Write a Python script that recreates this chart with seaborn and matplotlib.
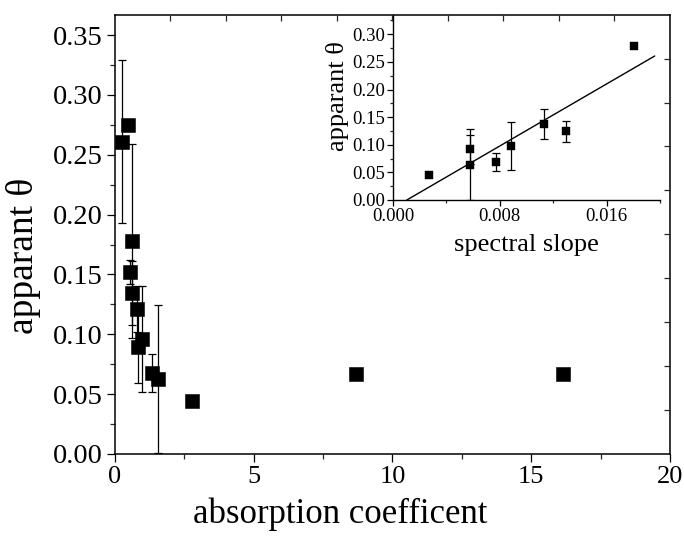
import numpy as np
import pandas as pd
import matplotlib
matplotlib.use("Agg")
import matplotlib.pyplot as plt
import seaborn as sns
from matplotlib.ticker import MultipleLocator, FormatStrFormatter, FixedLocator

# ---------------- data ----------------
# main panel: apparent theta vs absorption coefficient
absorption = [0.26, 0.47, 0.61, 0.53, 0.62, 0.80, 0.98, 0.83, 1.34, 1.55, 2.77, 8.69, 16.15]
theta_main = [0.261, 0.275, 0.178, 0.152, 0.1345, 0.121, 0.096, 0.089, 0.0675, 0.0625, 0.0446, 0.0665, 0.067]
theta_main_err = [0.068, 0.0, 0.081, 0.01, 0.027, 0.019, 0.044, 0.03, 0.016, 0.062, 0.0, 0.0, 0.0]

# inset: apparent theta vs spectral slope
spectral_slope = [0.00271, 0.00576, 0.00576, 0.0077, 0.0088, 0.01134, 0.01293, 0.01804]
theta_inset = [0.0458, 0.064, 0.092, 0.069, 0.098, 0.137, 0.124, 0.2796]
theta_inset_err = [0.0, 0.064, 0.026, 0.016, 0.044, 0.027, 0.019, 0.0]
fit_x_end = 0.0196

main_xticks = [0, 5, 10, 15, 20]
main_yticks = [0.00, 0.05, 0.10, 0.15, 0.20, 0.25, 0.30, 0.35]
inset_xticks = [0.000, 0.008, 0.016]
inset_yticks = [0.00, 0.05, 0.10, 0.15, 0.20, 0.25, 0.30]

main_df = pd.DataFrame({"absorption": absorption, "theta": theta_main, "err": theta_main_err})
inset_df = pd.DataFrame({"slope": spectral_slope, "theta": theta_inset, "err": theta_inset_err})

# ---------------- style ----------------
sns.set_theme(style="ticks")
plt.rcParams["font.family"] = ["Liberation Serif", "DejaVu Serif"]

fig = plt.figure(figsize=(6.84, 5.36), dpi=100)
fig.patch.set_facecolor("white")

# ---------------- main axes ----------------
ax = fig.add_axes([0.1681, 0.1530, 0.8114, 0.8196])
ax.set_facecolor("white")
eb = main_df[main_df["err"] > 0]
ax.errorbar(eb["absorption"], eb["theta"], yerr=eb["err"], fmt="none",
            ecolor="black", elinewidth=0.9, capsize=3, capthick=0.9, zorder=2)
sns.scatterplot(data=main_df, x="absorption", y="theta", marker="s", s=95,
                color="black", edgecolor="black", linewidth=0.4, ax=ax, zorder=3,
                legend=False)
ax.set_xlim(0, 20)
ax.set_ylim(0, 0.367)
ax.xaxis.set_major_locator(FixedLocator(main_xticks))
ax.xaxis.set_minor_locator(MultipleLocator(2.5))
ax.yaxis.set_major_locator(FixedLocator(main_yticks))
ax.yaxis.set_minor_locator(MultipleLocator(0.025))
ax.yaxis.set_major_formatter(FormatStrFormatter("%.2f"))
ax.xaxis.set_major_formatter(FormatStrFormatter("%d"))
ax.tick_params(axis="both", which="major", direction="out", length=6, width=0.9,
               pad=3, top=False, right=False, colors="black")
ax.tick_params(axis="x", which="major", labelsize=19)
ax.tick_params(axis="y", which="major", labelsize=20.5)
ax.tick_params(axis="both", which="minor", direction="out", length=3.5, width=0.9,
               top=False, right=False)
for sp in ax.spines.values():
    sp.set_visible(True)
    sp.set_linewidth(1.1)
    sp.set_color("black")
ax.set_xlabel("absorption coefficent", fontsize=25, color="black")
ax.set_ylabel("apparant θ", fontsize=27, color="black")
ax.xaxis.set_label_coords(0.405, -0.098)
ax.xaxis.label.set_va("top")
ax.yaxis.set_label_coords(-0.133, 0.45)

# ---------------- inset ----------------
ins = fig.add_axes([0.5746, 0.6269, 0.3904, 0.3457])
ins.patch.set_alpha(0)
eb2 = inset_df[inset_df["err"] > 0]
ins.errorbar(eb2["slope"], eb2["theta"], yerr=eb2["err"], fmt="none",
             ecolor="black", elinewidth=0.9, capsize=3, capthick=0.9, zorder=2)
sns.scatterplot(data=inset_df, x="slope", y="theta", marker="s", s=30,
                color="black", edgecolor="black", linewidth=0.3, ax=ins, zorder=3,
                legend=False)
coef = np.polyfit(spectral_slope, theta_inset, 1)
x0 = -coef[1] / coef[0]
fit_x = np.array([x0, fit_x_end])
fit_df = pd.DataFrame({"slope": fit_x, "theta": np.polyval(coef, fit_x)})
sns.lineplot(data=fit_df, x="slope", y="theta", color="black", linewidth=1.0, ax=ins)
ins.set_xlim(0, 0.02)
ins.set_ylim(0, 0.3355)
ins.xaxis.set_major_locator(FixedLocator(inset_xticks))
ins.xaxis.set_minor_locator(MultipleLocator(0.004))
ins.yaxis.set_major_locator(FixedLocator(inset_yticks))
ins.yaxis.set_minor_locator(MultipleLocator(0.025))
ins.xaxis.set_major_formatter(FormatStrFormatter("%.3f"))
ins.yaxis.set_major_formatter(FormatStrFormatter("%.2f"))
ins.tick_params(axis="both", which="major", direction="out", length=4, width=0.9,
                labelsize=13.5, pad=2, top=False, right=False, colors="black")
ins.tick_params(axis="both", which="minor", direction="out", length=2.5, width=0.9,
                top=False, right=False)
ins.spines["top"].set_visible(False)
ins.spines["right"].set_visible(False)
ins.spines["left"].set_linewidth(1.0)
ins.spines["bottom"].set_linewidth(1.0)
ins.spines["left"].set_color("black")
ins.spines["bottom"].set_color("black")
ins.set_xlabel("spectral slope", fontsize=19, color="black", labelpad=6)
ins.set_ylabel("apparant θ", fontsize=19, color="black")
ins.yaxis.set_label_coords(-0.165, 0.56)

# ---------------- top / right inward ticks (overlay layer) ----------------
ov = fig.add_axes([0.1681, 0.1530, 0.8114, 0.8196], frameon=False)
ov.patch.set_alpha(0)
ov.set_xlim(0, 1)
ov.set_ylim(0, 1)
ov.xaxis.tick_top()
ov.yaxis.tick_right()
ov.set_xticks(np.arange(1, 10) / 10)
ov.set_yticks(np.arange(1, 10) / 10)
ov.tick_params(axis="both", direction="in", length=4, width=0.9,
               labeltop=False, labelright=False, labelbottom=False, labelleft=False)

fig.savefig("out.png", dpi=100)
